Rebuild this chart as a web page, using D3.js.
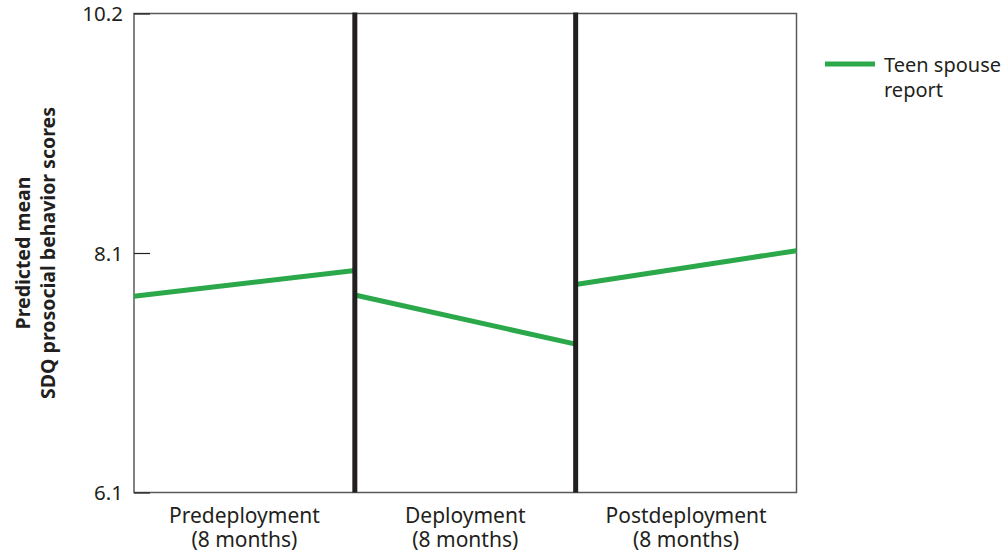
<!DOCTYPE html>
<html>
<head>
<meta charset="utf-8">
<script src="https://cdn.jsdelivr.net/npm/d3@7"></script>
<style>
  body { margin: 0; background: #fff; }
  text { font-family: "Noto Sans", "Open Sans", sans-serif; fill: #231f20; }
</style>
</head>
<body>
<svg width="1008" height="556"></svg>
<script>
var svg = d3.select('svg');

// periods (panels) of the chart
const periods = ['Predeployment', 'Deployment', 'Postdeployment'];
const periodSub = '(8 months)';
// start and end value of the line inside each period
const startValues = [7.78, 7.79, 7.88];
const endValues = [8.00, 7.37, 8.17];
// y axis ticks and their printed labels
const tickValues = [6.1, 8.15, 10.2];
const tickLabels = ['6.1', '8.1', '10.2'];
const seriesName = ['Teen spouse', 'report'];

// edges of the plot box
let pLeft = 134, pRight = 796.5, pTop = 13.5, pBottom = 492.5;

let x = d3.scaleLinear().domain([0, periods.length]).range([pLeft, pRight]);
let y = d3.scaleLinear().domain([6.1, 10.2]).range([pBottom, pTop]);

// frame of plot
svg.append('rect')
    .attr('x', pLeft).attr('y', pTop)
    .attr('width', pRight - pLeft).attr('height', pBottom - pTop)
    .attr('fill', 'none')
    .attr('stroke', '#58595b')
    .attr('stroke-width', 1.5);

// y axis ticks pointing inward (only the middle one shows, the others sit on the frame)
let yAxis = d3.axisRight(y)
    .tickValues(tickValues)
    .tickSize(16)
    .tickFormat('');
let ax = svg.append('g').attr('transform', 'translate(' + pLeft + ',0)').call(yAxis);
ax.select('.domain').remove();
ax.selectAll('.tick line').attr('stroke', '#231f20').attr('stroke-width', 1.2);

svg.selectAll('.ylab').data(tickValues).enter().append('text')
    .attr('class', 'ylab')
    .attr('x', 123)
    .attr('y', d => y(d) + 7.5)
    .attr('text-anchor', 'end')
    .attr('font-size', 20.5)
    .text((d, i) => tickLabels[i]);

// green segments, one per period
svg.selectAll('.seg').data(periods).enter().append('line')
    .attr('class', 'seg')
    .attr('x1', (d, i) => x(i))
    .attr('x2', (d, i) => x(i + 1))
    .attr('y1', (d, i) => y(startValues[i]))
    .attr('y2', (d, i) => y(endValues[i]))
    .attr('stroke', '#2aa84a')
    .attr('stroke-width', 5);

// thick dividers between periods
svg.selectAll('.divider').data(d3.range(1, periods.length)).enter().append('line')
    .attr('class', 'divider')
    .attr('x1', d => x(d)).attr('x2', d => x(d))
    .attr('y1', pTop - 1).attr('y2', pBottom)
    .attr('stroke', '#231f20')
    .attr('stroke-width', 5);

// period labels
let lab = svg.selectAll('.xlab').data(periods).enter().append('text')
    .attr('class', 'xlab')
    .attr('text-anchor', 'middle')
    .attr('font-size', 21);
lab.append('tspan')
    .attr('x', (d, i) => x(i + 0.5))
    .attr('y', 523)
    .text(d => d);
lab.append('tspan')
    .attr('x', (d, i) => x(i + 0.5))
    .attr('y', 547)
    .text(periodSub);

// y axis title
let ytitle = svg.append('text')
    .attr('transform', 'translate(0,' + ((pTop + pBottom) / 2) + ') rotate(-90)')
    .attr('text-anchor', 'middle')
    .attr('font-size', 19.5)
    .attr('font-weight', 'bold');
ytitle.append('tspan').attr('x', 0).attr('y', 30).text('Predicted mean');
ytitle.append('tspan').attr('x', 0).attr('y', 55).text('SDQ prosocial behavior scores');

// legend
svg.append('line')
    .attr('x1', 825).attr('x2', 875)
    .attr('y1', 64).attr('y2', 64)
    .attr('stroke', '#2aa84a')
    .attr('stroke-width', 5);
svg.selectAll('.leg').data(seriesName).enter().append('text')
    .attr('class', 'leg')
    .attr('x', 884)
    .attr('y', (d, i) => 72 + i * 25)
    .attr('font-size', 20)
    .text(d => d);
</script>
</body>
</html>
